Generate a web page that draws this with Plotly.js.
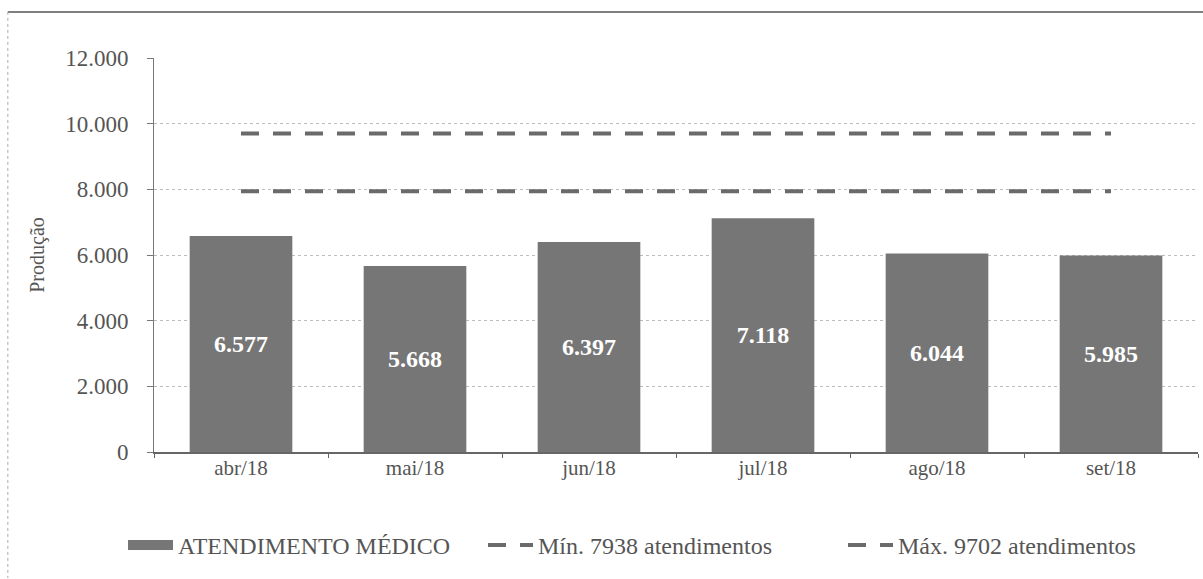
<!DOCTYPE html>
<html>
<head>
<meta charset="utf-8">
<script src="https://cdn.plot.ly/plotly-3.0.1.min.js"></script>
<style>html,body{margin:0;padding:0;background:#fff;}#chart{width:1203px;height:579px;}</style>
</head>
<body>
<div id="chart"></div>
<script>
const categories = ["abr/18", "mai/18", "jun/18", "jul/18", "ago/18", "set/18"];
const atendimentos = [6577, 5668, 6397, 7118, 6044, 5985];
const minValue = 7938;
const maxValue = 9702;
const minSeries = categories.map(() => minValue);
const maxSeries = categories.map(() => maxValue);
const seriesNames = ["ATENDIMENTO MÉDICO", "Mín. 7938 atendimentos", "Máx. 9702 atendimentos"];
const yTicks = [0, 2000, 4000, 6000, 8000, 10000, 12000];

const serif = "'Times New Roman', 'Liberation Serif', serif";
const barColor = "#767676";
const lineColor = "#6a6a6a";

const traces = [
  {
    type: "bar",
    x: categories,
    y: atendimentos,
    name: seriesNames[0],
    legendgroup: "bar",
    showlegend: false,
    marker: {color: barColor, line: {width: 0}},
    texttemplate: "%{y:,}",
    textposition: "inside",
    insidetextanchor: "middle",
    textangle: 0,
    textfont: {family: serif, size: 24, color: "#ffffff", weight: "bold"},
    hoverinfo: "skip"
  },
  {
    // legend swatch for the bar series (wide grey rectangle, as in the original)
    type: "scatter",
    mode: "lines",
    x: [categories[0]],
    y: [null],
    name: seriesNames[0],
    legendgroup: "bar",
    line: {color: barColor, width: 11},
    hoverinfo: "skip"
  },
  {
    type: "scatter",
    mode: "lines",
    x: categories,
    y: minSeries,
    name: seriesNames[1],
    line: {color: lineColor, width: 4, dash: "18px,14px"}
  },
  {
    type: "scatter",
    mode: "lines",
    x: categories,
    y: maxSeries,
    name: seriesNames[2],
    line: {color: lineColor, width: 4, dash: "18px,14px"}
  }
];

const layout = {
  width: 1203,
  height: 579,
  margin: {l: 154, r: 5, t: 58, b: 127},
  paper_bgcolor: "#ffffff",
  plot_bgcolor: "#ffffff",
  separators: ",.",
  bargap: 0.41,
  showlegend: true,
  font: {family: serif, color: "#555555"},
  legend: {
    orientation: "h",
    x: -0.012,
    xanchor: "left",
    y: -0.237,
    yanchor: "middle",
    font: {family: serif, size: 24, color: "#555555"},
    itemwidth: 45,
    entrywidth: 300,
    entrywidthmode: "pixels",
    traceorder: "normal"
  },
  xaxis: {
    type: "category",
    showline: true,
    linecolor: "#666666",
    linewidth: 1.5,
    ticks: "outside",
    tickson: "boundaries",
    ticklen: 4,
    tickcolor: "#666666",
    ticklabelstandoff: -4,
    tickfont: {family: serif, size: 21, color: "#555555"},
    showgrid: false,
    zeroline: false
  },
  yaxis: {
    range: [0, 12000],
    tickvals: yTicks,
    tickformat: ",d",
    showline: true,
    linecolor: "#777777",
    linewidth: 1,
    ticks: "outside",
    ticklen: 6,
    tickcolor: "#777777",
    ticklabelstandoff: 14,
    tickfont: {family: serif, size: 23, color: "#555555"},
    showgrid: true,
    gridcolor: "#bdbdbd",
    griddash: "dot",
    gridwidth: 1,
    zeroline: false,
    title: {text: "Produção", font: {family: serif, size: 20, color: "#555555"}, standoff: 15}
  },
  shapes: [
    {type: "line", xref: "paper", yref: "paper", x0: -0.14, x1: 1.01, y0: 1.117, y1: 1.117,
     line: {color: "#555555", width: 1.5}},
    {type: "line", xref: "paper", yref: "paper", x0: -0.14, x1: -0.14, y0: 1.117, y1: -0.32,
     line: {color: "#aaaaaa", width: 1, dash: "dot"}}
  ]
};

Plotly.newPlot("chart", traces, layout, {displayModeBar: false, staticPlot: true});
</script>
</body>
</html>
